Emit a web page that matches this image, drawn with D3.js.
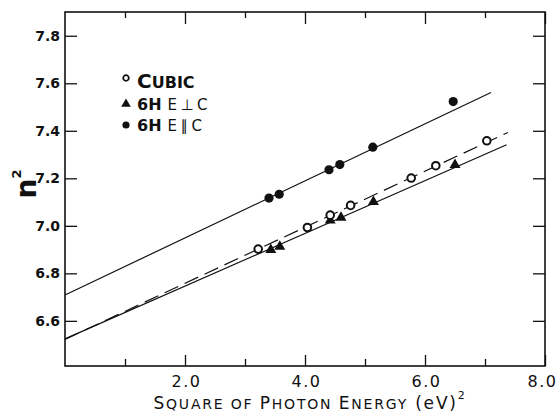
<!DOCTYPE html>
<html>
<head>
<meta charset="utf-8">
<script src="https://cdn.jsdelivr.net/npm/d3@7"></script>
<style>
  body { margin: 0; background: #fff; }
  svg text { font-family: "DejaVu Sans", sans-serif; fill: #111; }
</style>
</head>
<body>
<div id="chart"></div>
<script>
// Cubic (open circles)
const cubicX = [3.22, 4.04, 4.42, 4.76, 5.77, 6.18, 7.03];
const cubicY = [6.902, 6.993, 7.045, 7.086, 7.201, 7.253, 7.358];

// 6H, E perpendicular to c (triangles)
const perpX = [3.43, 3.58, 4.42, 4.60, 5.14, 6.50];
const perpY = [6.899, 6.913, 7.023, 7.035, 7.101, 7.257];

// 6H, E parallel to c (filled circles)
const parX = [3.40, 3.57, 4.40, 4.58, 5.13, 6.47];
const parY = [7.117, 7.133, 7.236, 7.258, 7.331, 7.523];

// Fitted lines (end points)
const cubicFit = [[0, 6.522], [7.38, 7.393]];
const perpFit = [[0, 6.524], [7.36, 7.341]];
const parFit = [[0, 6.709], [7.10, 7.561]];

// Ticks
const yTicks = [6.6, 6.8, 7.0, 7.2, 7.4, 7.6, 7.8];
const xMinorTicks = [1, 3, 5, 7];
const xMajorTicks = [2, 4, 6, 8];

// Legend
const legendNames = ["Cubic", "6H", "6H"];
const legendSub = ["", "E\u22A5C", "E\u2225C"];
const legendSymbols = ["open", "triangle", "filled"];

const xTitle = "Square of Photon Energy";
const xTitleUnit = "(eV)";

const width = 559, height = 415;

const svg = d3.select("#chart")
  .append("svg")
  .attr("width", width)
  .attr("height", height);

const x = d3.scaleLinear().domain([0, 8]).range([65, 545]);
const y = d3.scaleLinear().domain([6.41, 7.90]).range([366, 12]);

// helper: write text in small caps using tspans
function smallCaps(textSel, str, big, small) {
  str.split("").forEach(ch => {
    const isUpper = ch !== ch.toLowerCase();
    textSel.append("tspan")
      .attr("font-size", isUpper ? big : small)
      .text(ch.toUpperCase());
  });
}

// axes (ticks pointing inward)
const yLeft = svg.append("g")
  .attr("transform", `translate(${x(0)},0)`)
  .call(d3.axisLeft(y).tickValues(yTicks).tickSize(-12).tickPadding(5).tickFormat(d3.format(".1f")));
yLeft.selectAll("text").attr("font-size", 14).attr("font-weight", "bold");

svg.append("g")
  .attr("transform", `translate(${x(8)},0)`)
  .call(d3.axisRight(y).tickValues(yTicks).tickSize(-12).tickFormat(""));

svg.append("g")
  .attr("transform", `translate(0,${y(6.41)})`)
  .call(d3.axisBottom(x).tickValues(xMinorTicks).tickSize(-7).tickFormat(""));

const xBottom = svg.append("g")
  .attr("transform", `translate(0,${y(6.41)})`)
  .call(d3.axisBottom(x).tickValues(xMajorTicks).tickSize(-11).tickPadding(10).tickFormat(d3.format(".1f")));
xBottom.selectAll("text")
  .attr("font-size", 16)
  .attr("letter-spacing", "1.5px")
  .attr("dx", d => d === 8 ? -3 : 1);

svg.append("g")
  .attr("transform", `translate(0,${y(7.90)})`)
  .call(d3.axisTop(x).tickValues(xMinorTicks).tickSize(-6).tickFormat(""));
svg.append("g")
  .attr("transform", `translate(0,${y(7.90)})`)
  .call(d3.axisTop(x).tickValues(xMajorTicks).tickSize(-12).tickFormat(""));

svg.selectAll(".domain").remove();
svg.selectAll(".tick line").attr("stroke", "#111").attr("stroke-width", 1.3);

// frame
svg.append("rect")
  .attr("x", x(0))
  .attr("y", y(7.90))
  .attr("width", x(8) - x(0))
  .attr("height", y(6.41) - y(7.90))
  .attr("fill", "none")
  .attr("stroke", "#111")
  .attr("stroke-width", 1.6);

// fitted lines
const line = d3.line().x(d => x(d[0])).y(d => y(d[1]));

svg.append("path").datum(parFit)
  .attr("fill", "none").attr("stroke", "#111").attr("stroke-width", 1.2).attr("d", line);
svg.append("path").datum(perpFit)
  .attr("fill", "none").attr("stroke", "#111").attr("stroke-width", 1.2).attr("d", line);
svg.append("path").datum(cubicFit)
  .attr("fill", "none").attr("stroke", "#111").attr("stroke-width", 1.2)
  .attr("stroke-dasharray", "15,7").attr("d", line);

// markers
const triangle = d3.symbol().type(d3.symbolTriangle).size(52);

svg.selectAll(".perp")
  .data(d3.zip(perpX, perpY))
  .join("path")
  .attr("class", "perp")
  .attr("transform", d => `translate(${x(d[0])},${y(d[1])})`)
  .attr("d", triangle)
  .attr("fill", "#111");

svg.selectAll(".cubic")
  .data(d3.zip(cubicX, cubicY))
  .join("circle")
  .attr("class", "cubic")
  .attr("cx", d => x(d[0]))
  .attr("cy", d => y(d[1]))
  .attr("r", 3.8)
  .attr("fill", "#fff")
  .attr("stroke", "#111")
  .attr("stroke-width", 2);

svg.selectAll(".par")
  .data(d3.zip(parX, parY))
  .join("circle")
  .attr("class", "par")
  .attr("cx", d => x(d[0]))
  .attr("cy", d => y(d[1]))
  .attr("r", 4.6)
  .attr("fill", "#111");

// legend
const legendY = [78, 104, 125];
legendNames.forEach((name, i) => {
  const g = svg.append("g").attr("transform", `translate(126,${legendY[i]})`);
  if (legendSymbols[i] === "open") {
    g.append("circle").attr("r", 2.8).attr("fill", "#fff").attr("stroke", "#111").attr("stroke-width", 1.8);
  } else if (legendSymbols[i] === "triangle") {
    g.append("path").attr("d", d3.symbol().type(d3.symbolTriangle).size(40)).attr("fill", "#111");
  } else {
    g.append("circle").attr("r", 3.6).attr("fill", "#111");
  }
  const t = g.append("text").attr("x", 11).attr("y", i === 0 ? 10 : 5.5).attr("font-weight", "bold");
  if (i === 0) {
    smallCaps(t, name, 20, 16);
  } else {
    t.append("tspan").attr("font-size", 16).text(name);
    t.append("tspan").attr("font-size", 15).attr("font-weight", "normal")
      .attr("dx", 6).attr("letter-spacing", "3.5px").text(legendSub[i]);
  }
});

// x axis title
const xt = svg.append("text")
  .attr("x", 310)
  .attr("y", 409)
  .attr("text-anchor", "middle")
  .attr("letter-spacing", "1.8px");
xTitle.split(" ").forEach((word, i) => {
  if (i > 0) xt.append("tspan").attr("font-size", 14).text(" ");
  smallCaps(xt, word, 17, 14);
});
xt.append("tspan").attr("font-size", 17).text(" " + xTitleUnit);
xt.append("tspan").attr("font-size", 11).attr("dy", -10).text("2");

// y axis title
svg.append("text")
  .attr("transform", "translate(36,184) rotate(-90)")
  .attr("text-anchor", "middle")
  .attr("font-size", 28)
  .attr("font-weight", "bold")
  .call(t => {
    t.append("tspan").text("n");
    t.append("tspan").attr("font-size", 13).attr("dy", -15).text("2");
  });
</script>
</body>
</html>
